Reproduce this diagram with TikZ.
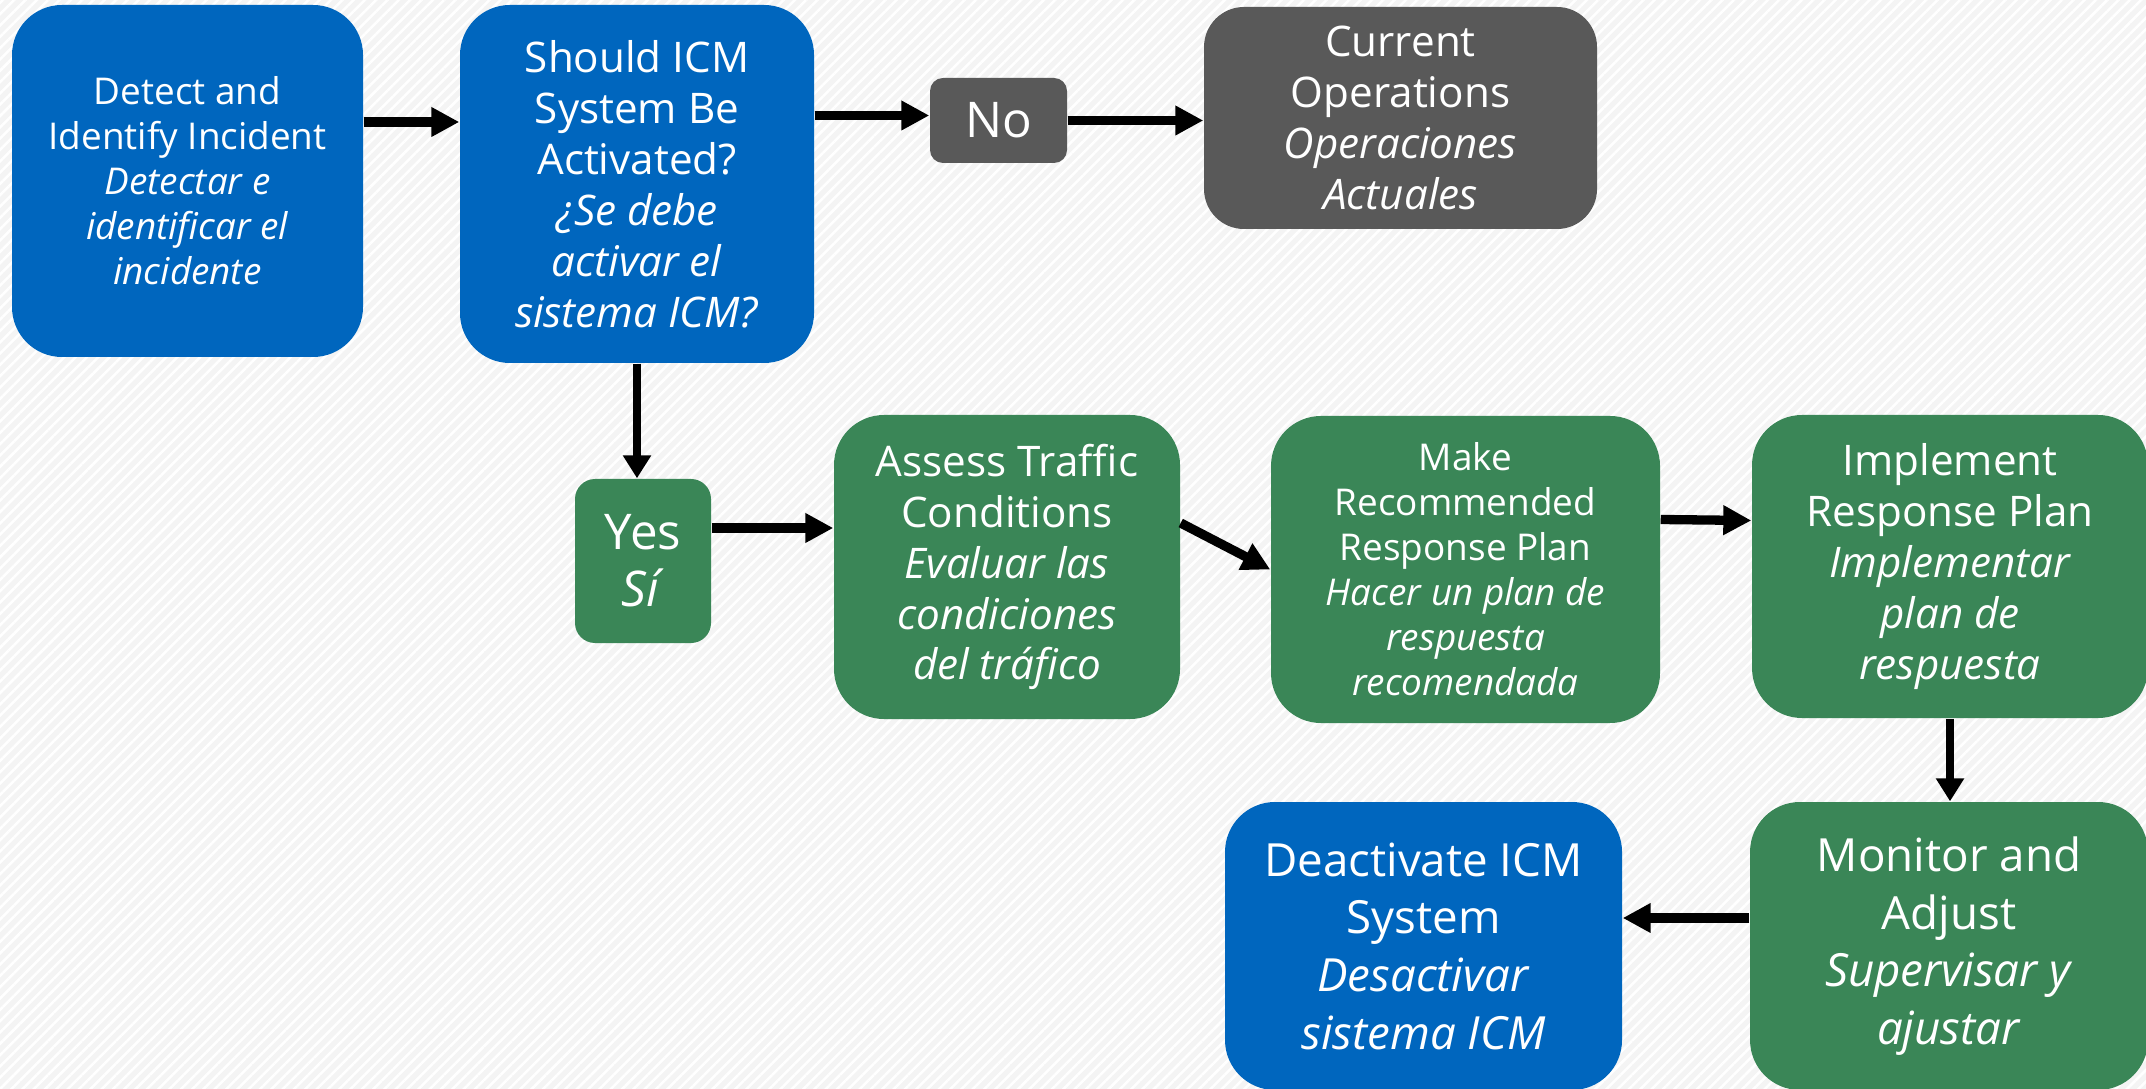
\documentclass[tikz,border=0pt]{standalone}
\usepackage{fontspec}
\setmainfont{Open Sans}
\usetikzlibrary{arrows.meta, patterns.meta}

\definecolor{icmblue}{HTML}{0066BE}
\definecolor{icmgreen}{HTML}{3A8657}
\definecolor{icmgray}{HTML}{595959}
\newcommand{\fsmallbox}{\fontsize{10.5pt}{12.8pt}\selectfont}
\newcommand{\fmidbox}{\fontsize{12pt}{14.5pt}\selectfont}
\newcommand{\fbigbox}{\fontsize{13pt}{16.4pt}\selectfont}
\newcommand{\fhugebox}{\fontsize{14pt}{16.2pt}\selectfont}

\begin{document}
\begin{tikzpicture}[
        box/.style={rectangle, rounded corners=5mm, inner sep=0pt, align=center, text=white, font=\fmidbox},
        arr/.style={line width=0.93mm, -{Triangle[length=2.8mm, width=2.8mm]}},
        arrv/.style={line width=0.76mm, -{Triangle[length=2.3mm, width=2.7mm]}}
    ]
        % background
        \fill[gray!9] (0,0) rectangle (21.46,-10.89);
        \fill[pattern={Lines[angle=45, distance=0.8mm, line width=0.25mm]}, pattern color=white] (0,0) rectangle (21.46,-10.89);
        \useasboundingbox (0,0) rectangle (21.46,-10.89);

        % top row
        \node[box, fill=icmblue, font=\fsmallbox, minimum width=3.51cm, minimum height=3.52cm] (detect) at (1.875,-1.81)
            {Detect and\\Identify Incident\\\textit{Detectar e}\\\textit{identificar el}\\\textit{incidente}};
        \node[box, fill=icmblue, minimum width=3.54cm, minimum height=3.58cm] (should) at (6.37,-1.84)
            {Should ICM\\System Be\\Activated?\\\textit{¿Se debe}\\\textit{activar el}\\\textit{sistema ICM?}};
        \node[box, fill=icmgray, font=\fhugebox, rounded corners=1.3mm, minimum width=1.37cm, minimum height=0.85cm] (no) at (9.985,-1.205)
            {No};
        \node[box, fill=icmgray, rounded corners=4mm, minimum width=3.93cm, minimum height=2.22cm] (current) at (14.005,-1.18)
            {Current\\Operations\\\textit{Operaciones}\\\textit{Actuales}};

        % middle row
        \node[box, fill=icmgreen, font=\fhugebox, rounded corners=2mm, minimum width=1.36cm, minimum height=1.64cm] (yes) at (6.43,-5.61)
            {Yes\\\textit{Sí}};
        \node[box, fill=icmgreen, minimum width=3.46cm, minimum height=3.04cm] (assess) at (10.07,-5.67)
            {Assess Traffic\\Conditions\\\textit{Evaluar las}\\\textit{condiciones}\\\textit{del tráfico}};
        \node[box, fill=icmgreen, font=\fsmallbox, minimum width=3.89cm, minimum height=3.07cm] (make) at (14.655,-5.695)
            {Make\\Recommended\\Response Plan\\\textit{Hacer un plan de}\\\textit{respuesta}\\\textit{recomendada}};
        \node[box, fill=icmgreen, minimum width=3.96cm, minimum height=3.03cm] (implement) at (19.5,-5.665)
            {Implement\\Response Plan\\\textit{Implementar}\\\textit{plan de}\\\textit{respuesta}};

        % bottom row
        \node[box, fill=icmgreen, font=\fbigbox, minimum width=3.98cm, minimum height=2.88cm] (monitor) at (19.49,-9.46)
            {Monitor and\\Adjust\\\textit{Supervisar y}\\\textit{ajustar}};
        \node[box, fill=icmblue, font=\fbigbox, minimum width=3.97cm, minimum height=2.88cm] (deactivate) at (14.235,-9.46)
            {Deactivate ICM\\System\\\textit{Desactivar}\\\textit{sistema ICM}};

        % connectors
        \draw[arr] ([yshift=5.9mm]detect.east) -- ([yshift=5.9mm]detect.east -| should.west);
        \draw[arr] ([yshift=0.5mm]should.east |- no.west) -- ([yshift=0.5mm]no.west);
        \draw[arr] (no.east) -- (no.east -| current.west);
        \draw[arrv] (should.south) -- (should.south |- yes.north);
        \draw[arr] ([yshift=3.3mm]yes.east) -- ([yshift=3.3mm]yes.east -| assess.west);
        \draw[arr] ([yshift=4.4mm]assess.east) -- (make.west);
        \draw[arr] ([yshift=5mm]make.east) -- ([yshift=4.6mm]implement.west);
        \draw[arrv] (implement.south) -- (implement.south |- monitor.north);
        \draw[arr] ([yshift=2.8mm]monitor.west) -- ([yshift=2.8mm]monitor.west -| deactivate.east);
\end{tikzpicture}
\end{document}
